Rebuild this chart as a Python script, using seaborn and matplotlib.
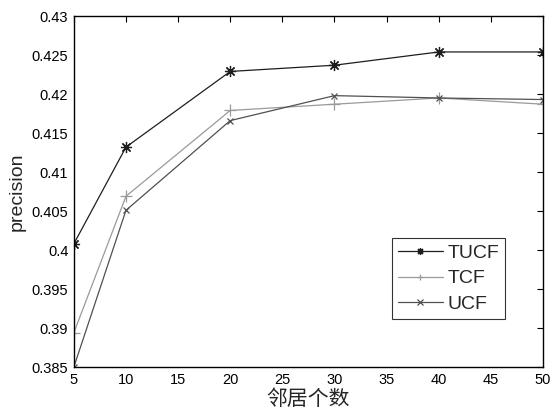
import matplotlib
matplotlib.use("Agg")
import matplotlib.pyplot as plt
import seaborn as sns
import pandas as pd

neighbors = [5, 10, 20, 30, 40, 50]
tucf = [0.4008, 0.4132, 0.4229, 0.4237, 0.4254, 0.4254]
tcf = [0.3894, 0.4069, 0.4179, 0.4187, 0.4195, 0.4187]
ucf = [0.3850, 0.4051, 0.4166, 0.4198, 0.4195, 0.4193]

x_ticks = [5, 10, 15, 20, 25, 30, 35, 40, 45, 50]
y_ticks = [0.385, 0.39, 0.395, 0.4, 0.405, 0.41, 0.415, 0.42, 0.425, 0.43]
y_labels = ["0.385", "0.39", "0.395", "0.4", "0.405", "0.41", "0.415", "0.42", "0.425", "0.43"]

sns.set_style("white")
plt.rcParams['font.family'] = ['Liberation Sans', 'Noto Sans CJK SC', 'DejaVu Sans']

df = pd.DataFrame({"k": neighbors * 3,
                   "precision": tucf + tcf + ucf,
                   "method": ["TUCF"] * 6 + ["TCF"] * 6 + ["UCF"] * 6})

# colour, marker, marker size  (asterisk like matlab '*')
styles = {"TUCF": ("#1e1e1e", (8, 2, 0), 8), "TCF": ("#9a9a9a", "+", 8), "UCF": ("#505050", "x", 5)}

fig = plt.figure(figsize=(5.51, 4.12), dpi=100)
ax = fig.add_axes([0.134, 0.109, 0.8515, 0.852])

for name, (col, mk, ms) in styles.items():
    sub = df[df["method"] == name]
    sns.lineplot(data=sub, x="k", y="precision", ax=ax, color=col, marker=mk,
                 markersize=ms, markeredgewidth=0.9, markeredgecolor=col,
                 markerfacecolor=col, linewidth=0.9, label=name)

ax.set_xlim(5, 50)
ax.set_ylim(0.385, 0.43)
ax.set_xticks(x_ticks)
ax.set_yticks(y_ticks)
ax.set_yticklabels(y_labels)
ax.tick_params(direction="in", length=4, width=0.8, top=True, right=True,
               labelsize=10.5, pad=4, colors="black")
for s in ax.spines.values():
    s.set_linewidth(1.0)
    s.set_color("black")

ax.set_ylabel("precision", fontsize=14, labelpad=4)
ax.set_xlabel("邻居个数", fontsize=15, labelpad=1, family=['Noto Sans CJK SC', 'DejaVu Sans'])

leg = ax.legend(loc="lower right", bbox_to_anchor=(0.919, 0.137), fontsize=14,
                frameon=True, fancybox=False, handlelength=2.3, borderpad=0.3,
                labelspacing=0.42, handletextpad=0.25, borderaxespad=0)
leg.get_frame().set_edgecolor("black")
leg.get_frame().set_linewidth(0.8)
for h in leg.legend_handles:
    h.set_markersize(5)

fig.savefig("out.png", dpi=100)
